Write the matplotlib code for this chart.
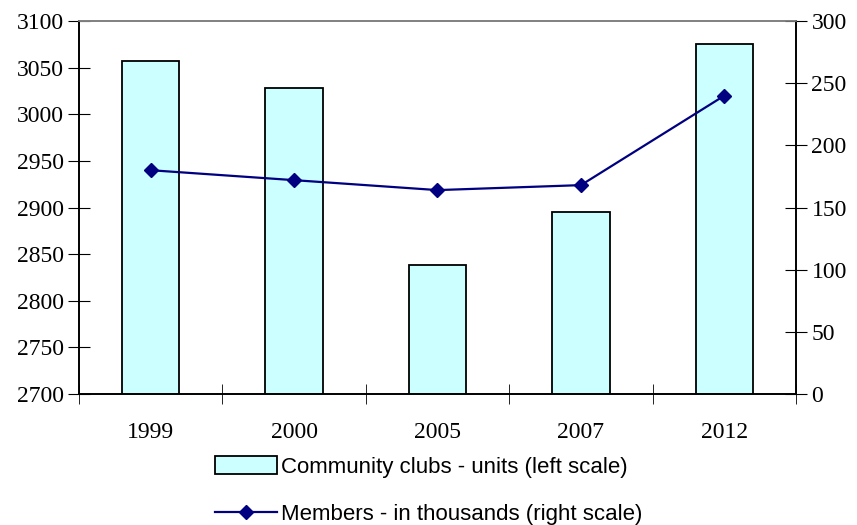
import numpy as np
import matplotlib.pyplot as plt
from matplotlib.lines import Line2D
from matplotlib.patches import Patch

years = ["1999", "2000", "2005", "2007", "2012"]
clubs = [3057, 3028, 2838, 2895, 3075]
members = [180, 172, 164, 168, 240]
left_ticks = [2700, 2750, 2800, 2850, 2900, 2950, 3000, 3050, 3100]
right_ticks = [0, 50, 100, 150, 200, 250, 300]

plt.rcParams['font.family'] = ['Liberation Serif', 'DejaVu Serif']

fig = plt.figure(figsize=(8.57, 5.25), dpi=100)
ax = fig.add_axes([0.092, 0.2495, 0.837, 0.7105])
x = np.arange(len(years))

# bars on the left scale
ax.bar(x, clubs, width=0.4, bottom=0, color='#CCFFFF', edgecolor='black', linewidth=1.3, zorder=2)
ax.set_ylim(2700, 3100)
ax.set_yticks(left_ticks)
ax.set_xlim(-0.5, len(years) - 0.5)
ax.set_xticks(x)
ax.set_xticklabels(years)
ax.set_xticks(np.arange(-0.5, len(years)), minor=True)
ax.tick_params(axis='x', which='major', length=0, pad=20, labelsize=17)
ax.tick_params(axis='x', which='minor', direction='inout', length=14)
ax.tick_params(axis='y', direction='inout', length=16, labelsize=17, pad=3)

# members on the right scale
ax2 = ax.twinx()
ax2.plot(x, members, color='#000080', marker='D', markersize=7, linewidth=1.6, zorder=3)
ax2.set_ylim(0, 300)
ax2.set_yticks(right_ticks)
ax2.tick_params(axis='y', direction='inout', length=16, labelsize=17, pad=3)

for a in (ax, ax2):
    a.spines['top'].set_color('#808080')
    for s in ('top', 'left', 'right', 'bottom'):
        a.spines[s].set_linewidth(1.2)

handles = [
    Patch(facecolor='#CCFFFF', edgecolor='black', linewidth=1.3),
    Line2D([0], [0], color='#000080', marker='D', markersize=7, linewidth=1.6),
]
labels = ["Community clubs - units (left scale)", "Members - in thousands (right scale)"]
fig.legend(handles, labels, loc='center', bbox_to_anchor=(0.5, 0.066), frameon=False,
           prop={'family': ['Liberation Sans Narrow', 'Liberation Sans'], 'size': 16},
           labelspacing=1.15, handlelength=2.8, handleheight=0.9, handletextpad=0.15,
           borderpad=0.1)

fig.savefig("out.png", dpi=100)
